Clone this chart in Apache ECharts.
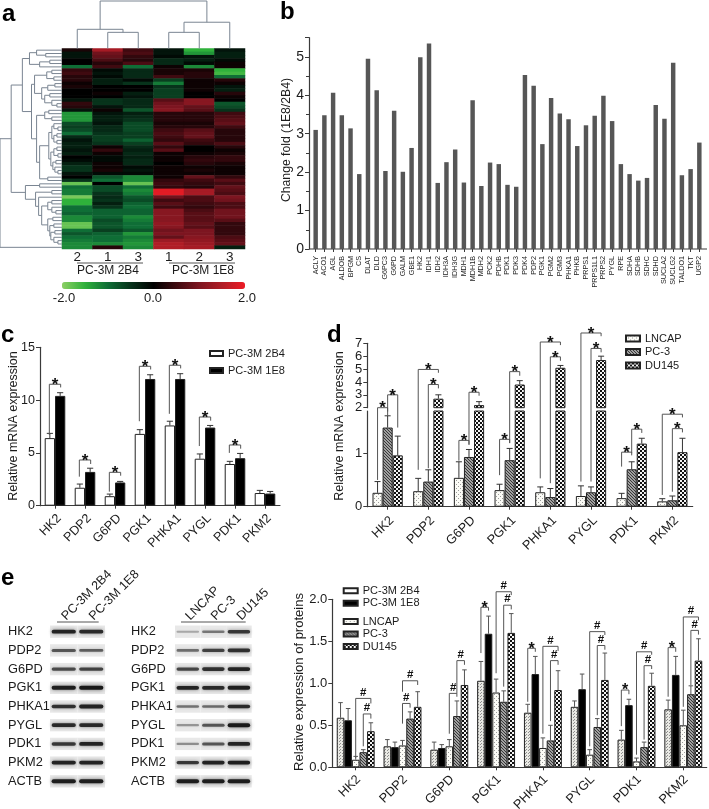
<!DOCTYPE html>
<html><head><meta charset="utf-8">
<style>html,body{margin:0;padding:0;background:#fff}#c{width:709px;height:809px}</style>
<script src="https://cdn.jsdelivr.net/npm/echarts@6/dist/echarts.min.js"></script>
</head><body><div id="c"></div>
<script>
// ---------- DATA ----------
const heatColumns = ['2','1','3','1','2','3'];
const heatRows = [
[.2,1.4,.5,-.2,-1.5,-.2],[-.2,.9,.6,-.2,-1.3,-.3],[-.2,.8,.4,-.1,-.2,-.3],[0,.6,.3,-.4,-.3,-.1],[0,.3,.6,-.4,-.1,.1],
[-1,.5,-1,.1,-1.2,.1],[.4,-.1,-.4,.2,.2,-1.5],[.5,-.2,-.4,.2,.3,-1.6],[.3,-.1,-.4,.5,.3,-1],[.3,-.3,-.1,-.6,.1,.3],
[.1,-.3,-.5,-1.1,.1,.1],[.2,0,0,-.5,.1,-.2],[0,0,0,-.6,.1,-.3],[0,.1,-.3,-.6,0,.3],[0,0,-.2,-.6,0,.1],
[-.2,-.5,-.4,.7,1.1,0],[.4,-.5,-.4,.9,1.1,-.8],[.3,-.2,-.4,1,.8,-.7],[-.2,.1,-.8,1.1,.7,-.5],[-1.3,-.2,-.3,.3,.3,.5],
[-1.3,-.3,-.4,.3,.3,.6],[-1.3,-.3,-.5,.3,.3,.7],[-.7,-.2,-.7,.2,.2,.8],[-.6,-.4,-.7,.3,.3,.5],[-.7,-.4,-.7,.5,.7,.3],
[-1,-.5,-.6,.6,.8,.3],[-.4,-.6,-.6,.5,.8,.3],[-.2,-.6,-.9,.4,.5,.3],[-.3,-.5,-.6,.7,.4,.6],[-.3,.1,-.4,.4,0,.3],
[-.2,.4,-.3,.7,0,.1],[-.3,.1,-.4,.1,.1,.2],[0,-.1,-.3,.1,.3,.4],[-.1,-.1,-.4,.1,.4,.4],[-.3,.1,-.4,0,.3,.2],
[-.5,.1,-.1,.1,.1,.1],[-.5,.2,-.2,.1,.2,.1],[-.2,-.1,-.1,.1,.1,.1],[0,-.8,-1.2,.1,.8,.4],[-.5,-1,-1.2,.4,.5,.7],
[-1.8,0,-1.8,.5,.4,.5],[-1,-.7,-1,.4,.3,.8],[-1.1,-.7,-1.2,1.9,1.4,.7],[-1.1,-.5,-1.1,1.9,1.4,.6],[-1.9,-.4,-.8,.9,.6,1],
[-1.5,-.5,-.7,.5,.6,.9],[-1.5,-.3,-.9,.7,.5,.6],[-1,-.5,-1,.5,.4,.6],[-1,-.9,-.9,1.1,.6,.9],[-.9,-.9,-.9,1.1,.7,.9],
[-1.2,-.9,-1.2,1.1,.7,.9],[-1.2,-.7,-1.1,1.1,.7,.7],[-1.8,-.8,-1,1.2,.8,.4],[-1.8,-.8,-1,1.1,.7,.4],[-1,-.6,-.8,.9,1,.4],
[-.8,-.9,-1.3,1,1,.4],[-1,-1,-1.1,.8,1.1,.6],[-1.1,-1,-1.2,1.3,1.2,.7],[-1.2,-1.2,-1.3,1.5,1.3,.8],[-1.2,.3,-1.2,1.5,1.4,-.3]];
// dendrograms: [merge height, left child, right child]; a number is a leaf
const colTree = [47,[19,0,[16,1,2]],[26,[16,3,4],5]];
const rowTree = [61,[50,[39,
  [32,[25,0,[16,1,2]],[22,[12,3,4],5]],
  [30,
    [27,[15,[10,6,7],[8,8,9]],[20,[14,[7,10,11],12],[17,[12,13,14],[10,15,[5,16,17]]]]],
    [25,[17,[13,18,19],[10,20,21]],[22,
      [13,[10,[8,22,[4,23,24]],[8,[5,25,26],[5,27,28]]],[11,[8,[5,29,30],[4,31,32]],[9,[6,33,34],[7,35,[4,36,37]]]]],
      [14,38,39]]]]],
  [36,[22,40,41],[26,[10,42,43],[23,44,[20,[14,[10,45,46],[10,47,[6,48,49]]],[14,[9,50,51],[12,[8,52,53],[11,[7,54,55],[8,56,[4,57,58]]]]]]]]]],59];

const foldGenes = ['ACLY','ACO1','AGL','ALDOB','BPGM','CS','DLAT','DLD','G6PC3','G6PD','GALM','GBE1','HK2','IDH1','IDH2','IDH3A','IDH3G','MDH1','MDH1B','MDH2','PCK2','PDHB','PDK1','PDK3','PDK4','PDP2','PGK1','PGM2','PGM3','PHKA1','PHKB','PRPS1','PRPS1L1','PRPS2','PYGL','RPE','SDHA','SDHB','SDHC','SDHD','SUCLA2','SUCLG2','TALDO1','TKT','UGP2'];
const foldValues = [3.1,3.48,4.07,3.48,3.14,1.95,4.95,4.13,2.03,3.6,2.01,2.63,4.99,5.35,1.72,2.26,2.59,1.73,3.87,1.64,2.25,2.21,1.67,1.62,4.53,4.25,2.73,3.93,3.53,3.38,2.68,3.22,3.47,3.99,3.33,2.21,1.95,1.78,1.85,3.75,3.39,4.85,1.92,2.08,2.77];

const genes8 = ['HK2','PDP2','G6PD','PGK1','PHKA1','PYGL','PDK1','PKM2'];
const mrna2B4 = [6.4,1.7,.9,6.8,7.6,4.45,3.95,1.2];
const mrna2B4Err = [6.85,2.05,1.1,7.2,8,4.9,4.2,1.45];
const mrna1E8 = [10.4,3.2,2.2,12,12,7.4,4.5,1.15];
const mrna1E8Err = [10.7,3.55,2.3,12.4,12.5,7.6,4.95,1.35];
// brackets: [gene index, from bar slot, to bar slot, top, left leg end, right leg end, mark]
const mrnaBrackets = [[0,-.55,.55,11.5,6.7,11.2,'*'],[1,-.55,.55,4.33,2.75,3.95,'*'],[2,-.55,.55,3.16,1.33,2.84,'*'],[3,-.55,.55,13.2,8,12.9,'*'],[4,-.55,.55,13.3,8.7,13,'*'],[5,-.55,.55,8.4,5.65,8.05,'*'],[6,-.55,.55,5.75,5,5.4,'*']];

const lncap = [.26,.29,.54,.31,.27,.2,.16,.1];
const lncapErr = [.47,.53,.84,.42,.37,.39,.25,.15];
const pc3 = [1.48,.47,.93,.87,.18,.27,.7,.12];
const pc3Err = [1.7,.69,1.07,1.09,.34,.37,.84,.2];
const du145 = [.96,2.7,2.2,3.8,5.1,5.7,1.18,1.02];
const du145Err = [1.32,3,2.47,4.1,5.28,6,1.28,1.28];
const lineBrackets = [[0,-1,0,2,.5,1.78,'*'],[0,0,1,3,1.7,1.48,'*'],[1,-1,1,4.97,.69,4.71,'*'],[1,0,1,3.8,.72,3.5,'*'],[2,-1,0,1.24,.86,1.16,'*'],[2,0,1,3.2,1.16,2.93,'*'],[3,-1,0,1.26,.59,1.19,'*'],[3,0,1,4.8,1.19,4.48,'*'],[4,-1,1,7.1,.53,6.86,'*'],[4,0,1,5.95,.44,5.64,'*'],[5,-1,1,7.8,.47,7.55,'*'],[5,0,1,6.6,.47,6.3,'*'],[6,-1,0,1.02,.75,.96,'*'],[6,0,1,1.45,1,1.38,'*'],[7,-1,1,1.73,.22,1.67,'*'],[7,0,1,1.46,.28,1.39,'*']];

const prot2B4 = [.59,.25,.21,1.03,.65,.72,.33,.69];
const prot2B4Err = [.77,.33,.3,1.26,.75,.79,.44,.8];
const prot1E8 = [.56,.24,.23,1.59,1.11,.93,.74,1.1];
const prot1E8Err = [.7,.3,.27,1.8,1.32,1.11,.81,1.32];
const protLncap = [.09,.26,.25,.89,.23,.15,.07,.5];
const protLncapErr = [.13,.32,.33,1.05,.35,.21,.11,.68];
const protPc3 = [.18,.58,.61,.78,.32,.48,.24,.87];
const protPc3Err = [.21,.66,.79,.91,.5,.58,.3,.97];
const protDu145 = [.43,.72,.98,1.6,.92,1.04,.97,1.27];
const protDu145Err = [.53,.9,1.16,1.83,1.15,1.36,1.12,1.53];
const protBrackets = [[0,0,2,.82,.11,.76,'#'],[0,1,2,.635,.25,.58,'#'],[1,0,2,1.03,.9,.98,'#'],[1,0,1,.76,.52,.71,'#'],[2,0,1,.88,.4,.84,'#'],[2,1,2,1.27,.88,1.22,'#'],[3,-2,-1,1.905,1.36,1.865,'*'],[3,0,2,2.09,1.12,2.05,'#'],[3,1,2,1.93,.96,1.88,'#'],[4,-2,-1,1.417,.78,1.375,'*'],[4,0,2,1.44,.4,1.385,'#'],[4,1,2,1.27,.55,1.22,'#'],[5,0,2,1.615,.25,1.575,'#'],[5,1,2,1.45,.62,1.4,'#'],[6,-2,-1,.92,.49,.87,'*'],[6,0,2,1.375,.15,1.34,'#'],[6,1,2,1.21,.33,1.17,'#'],[7,-2,-1,1.425,.84,1.375,'*'],[7,0,2,1.79,.72,1.75,'#'],[7,1,2,1.63,.98,1.58,'#']];

const blotGenes = ['HK2','PDP2','G6PD','PGK1','PHKA1','PYGL','PDK1','PKM2','ACTB'];
const blotLanesA = ['PC-3M 2B4','PC-3M 1E8'];
const blotLanesB = ['LNCAP','PC-3','DU145'];
const blotA = [[.9,.85],[.55,.5],[.62,.68],[.95,1],[.8,.9],[.85,.85],[.75,.9],[.9,.9],[.95,.95]];
const blotB = [[.08,.35,.75],[.4,.68,.8],[.65,.8,.9],[.9,.85,.95],[.38,.42,.85],[.18,.55,1],[.22,.55,.9],[.75,.9,.95],[.95,.95,.95]];

// ---------- HELPERS ----------
const FONT = '"Liberation Sans", Arial, sans-serif';
function pattern(size, bg, fg, cells){
  const c = document.createElement('canvas'); c.width = c.height = size;
  const g = c.getContext('2d'); g.fillStyle = bg; g.fillRect(0,0,size,size); g.fillStyle = fg;
  cells.forEach(p => g.fillRect(p[0],p[1],p[2],p[3]));
  return {image:c, repeat:'repeat'};
}
const patLncap = pattern(4,'#fbfbf6','#9a9a9a',[[0,0,1,1],[2,2,1,1]]);
const pat2B4 = pattern(3,'#e9e9e4','#8e8e8e',[[0,0,1,1],[1,2,1,1]]);
const patPc3 = pattern(3,'#a0a0a0','#383838',[[0,0,1,1],[1,1,1,1],[2,2,1,1]]);
const patDu = pattern(4,'#111','#f4f4f4',[[0,0,2,2],[2,2,2,2]]);
const AX = '#3a3a3a', TXT = '#1c1c1c';

function flatten(node, segs){
  if (typeof node === 'number') return {p:node+.5, h:0};
  const a = flatten(node[1],segs), b = flatten(node[2],segs), h = node[0];
  segs.push([a.p,a.h,a.p,h],[b.p,b.h,b.p,h],[a.p,h,b.p,h]);
  return {p:(a.p+b.p)/2, h};
}
function dendroSeries(tree, xi, yi, vertical){
  const segs = []; flatten(tree, segs);
  return {type:'custom', xAxisIndex:xi, yAxisIndex:yi, silent:true, data:segs.map((s,i)=>[i]), encode:{x:0,y:0},
    renderItem(params, api){
      const s = segs[params.dataIndex];
      const a = api.coord(vertical ? [s[0],s[1]] : [s[1],s[0]]);
      const b = api.coord(vertical ? [s[2],s[3]] : [s[3],s[2]]);
      return {type:'line', shape:{x1:a[0],y1:a[1],x2:b[0],y2:b[1]}, style:{stroke:'#7a8592',lineWidth:1}};
    }};
}
function barSeries(name, values, color, ai, frac, extra){
  return Object.assign({type:'bar', name, data:values, xAxisIndex:ai, yAxisIndex:ai, barWidth:(frac*100)+'%', barGap:'0%',
    itemStyle:{color, borderColor:'#222', borderWidth:1}, silent:true}, extra||{});
}
function errSeries(xi, yi, slot, frac, values, tops, map, color){
  map = map || (v=>v);
  return {type:'custom', xAxisIndex:xi, yAxisIndex:yi, silent:true, z:5, data:values.map((v,i)=>[i,v,tops[i]]), encode:{x:0,y:1},
    renderItem(params, api){
      const i = params.dataIndex, band = api.size([1,0])[0], w = band*frac;
      const p0 = api.coord([i,0])[0] + slot*w;
      const y1 = api.coord([i,map(values[i])])[1], y2 = api.coord([i,map(tops[i])])[1];
      const st = {stroke:color||'#333', lineWidth:1};
      return {type:'group', children:[
        {type:'line', shape:{x1:p0,y1,x2:p0,y2}, style:st},
        {type:'line', shape:{x1:p0-w*.3,y1:y2,x2:p0+w*.3,y2}, style:st}]};
    }};
}
function bracketSeries(rows, xi, yi, frac, map, starSize){
  map = map || (v=>v);
  return {type:'custom', xAxisIndex:xi, yAxisIndex:yi, silent:true, z:6, data:rows.map(r=>[r[0],r[3]]), encode:{x:0,y:1},
    renderItem(params, api){
      const r = rows[params.dataIndex], band = api.size([1,0])[0], w = band*frac;
      const c = api.coord([r[0],0])[0], xa = c+r[1]*w, xb = c+r[2]*w;
      const yt = api.coord([r[0],map(r[3])])[1], ya = api.coord([r[0],map(r[4])])[1], yb = api.coord([r[0],map(r[5])])[1];
      const star = r[6]==='*';
      return {type:'group', children:[
        {type:'polyline', shape:{points:[[xa,ya],[xa,yt],[xb,yt],[xb,yb]]}, style:{stroke:'#555',fill:null,lineWidth:1}},
        {type:'text', style:{x:(xa+xb)/2, y:star?yt+1:yt-6, text:r[6], align:'center', verticalAlign:'middle', fill:'#111',
          font: star ? ('bold '+starSize+'px '+FONT) : ('bold 11.5px '+FONT)}}]};
    }};
}
function blotSeries(rows, ai){
  const data = []; rows.forEach((r,g)=>r.forEach((v,l)=>data.push([l,g,v])));
  return {type:'custom', xAxisIndex:ai, yAxisIndex:ai, silent:true, data, encode:{x:0,y:1},
    renderItem(params, api){
      const l = api.value(0), g = api.value(1), v = data[params.dataIndex][2];
      const p = api.coord([l,g]), s = api.size([1,1]);
      const h = s[1]*.66, w = s[0];
      const bh = 1.8+2.2*v, bw = w*.88;
      return {type:'group', children:[
        {type:'rect', shape:{x:p[0]-w/2,y:p[1]-h/2,width:w,height:h}, style:{fill:'#e8e8e8'}},
        {type:'rect', shape:{x:p[0]-bw/2,y:p[1]-bh/2,width:bw,height:bh,r:bh/2},
          style:{fill:'rgba(25,25,25,'+(.22+.78*v)+')', shadowBlur:2+2*v, shadowColor:'rgba(40,40,40,'+(.2+.5*v)+')'}}]};
    }};
}
function txt(text,x,y,size,opts){
  return Object.assign({type:'text', silent:true, x, y, rotation:(opts&&opts.rot)||0,
    style:{text, fill:(opts&&opts.fill)||TXT, font:((opts&&opts.bold)?'bold ':'')+size+'px '+FONT,
      textAlign:(opts&&opts.align)||'center', textVerticalAlign:'middle'}},{});
}
function seg(x1,y1,x2,y2,color,w){
  return {type:'line', silent:true, shape:{x1,y1,x2,y2}, style:{stroke:color||'#444', lineWidth:w||1}};
}
function xCat(gridIndex, data, size, rotate, margin, show, shift){
  return {type:'category', gridIndex, data, axisLine:{show:show!==false, lineStyle:{color:AX,width:1.2}},
    axisTick:{show:show!==false, alignWithLabel:true, length:3, lineStyle:{color:AX}},
    axisLabel:{show:show!==false, interval:0, rotate:rotate||0, margin:margin||6, fontSize:size, color:TXT, fontFamily:FONT, padding:shift?[0,-shift,0,0]:0}, splitLine:{show:false}};
}
function yVal(gridIndex, min, max, interval, size, extra){
  return Object.assign({type:'value', gridIndex, min, max, interval,
    axisLine:{show:true, lineStyle:{color:AX,width:1.2}}, axisTick:{show:true, length:4, lineStyle:{color:AX}},
    axisLabel:{fontSize:size, color:TXT, fontFamily:FONT, margin:5, showMinLabel:true, showMaxLabel:true}, splitLine:{show:false}}, extra||{});
}
const hidden = {show:false};
function hiddenVal(gridIndex,min,max,inverse){ return {type:'value',gridIndex,min,max,inverse:!!inverse,show:false,splitLine:hidden}; }

// broken axis of panel d: express any value in units of the lower segment
const dLowMax = 1.79, dLowH = 95.7, dUpH = 64.4, dGap = 3.3, dUpMin = 2, dUpMax = 7;
const dUnit = dLowH/dLowMax;
function dMap(v){
  if (v <= dLowMax) return v;
  if (v < dUpMin) return dLowMax + (v-dLowMax)/(dUpMin-dLowMax)*dGap/dUnit;
  return dLowMax + dGap/dUnit + (v-dUpMin)*(dUpH/(dUpMax-dUpMin))/dUnit;
}
const frC = .343, frD = .248, frE = .162;
const upper = a => a.map(v => v >= dUpMin ? v : null);

// ---------- OPTION ----------
const heatData = [];
heatRows.forEach((r,y)=>r.forEach((v,x)=>heatData.push([x,y,v])));

const option = {
  animation:false, backgroundColor:'#fff', textStyle:{fontFamily:FONT},
  grid:[
    {left:62,top:48.5,width:183,height:200.5},
    {left:62,top:0,width:183,height:48.5},
    {left:0,top:48.5,width:62,height:200.5},
    {left:311.3,top:37.7,width:392.4,height:211.3},
    {left:40,top:347.3,width:240,height:158.4},
    {left:367.3,top:411,width:325.4,height:dLowH},
    {left:367.3,top:343.3,width:325.4,height:dUpH},
    {left:50,top:622.35,width:55,height:168.3},
    {left:175,top:622.35,width:76.7,height:168.3},
    {left:332.3,top:599.3,width:374.4,height:168}
  ].map(g=>Object.assign(g,{outerBoundsMode:'none'})),
  xAxis:[
    Object.assign(xCat(0,heatColumns,13.5,0,1),{axisLine:hidden,axisTick:hidden}),
    hiddenVal(1,0,6),
    hiddenVal(2,0,61,true),
    Object.assign(xCat(3,foldGenes,7.2,90,7),{axisLine:hidden,axisTick:{show:true,alignWithLabel:true,length:3,lineStyle:{color:AX}}}),
    xCat(4,genes8,12.6,45,15,true,6),
    xCat(5,genes8,12.8,45,16,true,6),
    xCat(6,genes8,13,0,6,false),
    Object.assign(xCat(7,blotLanesA,12.6,-45,4),{position:'top',axisLine:hidden,axisTick:hidden}),
    Object.assign(xCat(8,blotLanesB,12.6,-45,4),{position:'top',axisLine:hidden,axisTick:hidden}),
    xCat(9,genes8,12.8,45,13,true,4)
  ],
  yAxis:[
    {type:'category',gridIndex:0,inverse:true,data:heatRows.map((r,i)=>i),show:false},
    hiddenVal(1,0,48),
    hiddenVal(2,0,60,true),
    yVal(3,0,5.5,1,14,{offset:2.3,minorTick:{show:true,splitNumber:2,length:3,lineStyle:{color:AX}},axisLabel:{fontSize:14,color:TXT,fontFamily:FONT,margin:5,showMaxLabel:false}}),
    yVal(4,0,15,5,12.5),
    yVal(5,0,dLowMax,1,13,{axisLabel:{fontSize:13,color:TXT,fontFamily:FONT,margin:5,showMinLabel:true,showMaxLabel:false}}),
    yVal(6,dUpMin,dUpMax,1,13),
    {type:'category',gridIndex:7,inverse:true,data:blotGenes,axisLine:hidden,axisTick:hidden,axisLabel:{align:'left',margin:42,fontSize:12.8,color:TXT,fontFamily:FONT,interval:0}},
    {type:'category',gridIndex:8,inverse:true,data:blotGenes,axisLine:hidden,axisTick:hidden,axisLabel:{align:'left',margin:44,fontSize:12.8,color:TXT,fontFamily:FONT,interval:0}},
    yVal(9,0,2,.5,13,{axisLabel:{fontSize:13,color:TXT,fontFamily:FONT,margin:5,showMinLabel:true,showMaxLabel:true,formatter:v=>v.toFixed(1)}})
  ],
  visualMap:{type:'continuous',min:-2,max:2,seriesIndex:0,orient:'horizontal',left:47,top:267,itemWidth:7,itemHeight:183,
    calculable:false,hoverLink:false,text:null,showLabel:false,
    inRange:{color:['#8ccf63','#2fb13b','#0f6e36','#07331b','#000000','#3f0a10','#7d1520','#b01d26','#ee1c25']}},
  legend:[
    {left:204,top:343,orient:'vertical',icon:'rect',itemWidth:13,itemHeight:5,itemGap:6,selectedMode:false,data:['PC-3M 2B4','PC-3M 1E8'],textStyle:{fontSize:11,color:TXT,fontFamily:FONT}},
    {left:620,top:328,orient:'vertical',icon:'rect',itemWidth:14,itemHeight:6,itemGap:2.5,selectedMode:false,data:['LNCAP','PC-3','DU145'],textStyle:{fontSize:11,color:TXT,fontFamily:FONT}},
    {left:337.7,top:580.3,orient:'vertical',icon:'rect',itemWidth:14,itemHeight:5,itemGap:1.5,selectedMode:false,data:['PC-3M 2B4','PC-3M 1E8'],textStyle:{fontSize:11,color:TXT,fontFamily:FONT}},
    {left:337.7,top:611,orient:'vertical',icon:'rect',itemWidth:14,itemHeight:5,itemGap:1.5,selectedMode:false,data:['LNCAP','PC-3','DU145'],textStyle:{fontSize:11,color:TXT,fontFamily:FONT}}
  ],
  series:[
    {type:'heatmap',xAxisIndex:0,yAxisIndex:0,data:heatData,silent:true,itemStyle:{borderWidth:0}},
    dendroSeries(colTree,1,1,true),
    dendroSeries(rowTree,2,2,false),
    {type:'bar',xAxisIndex:3,yAxisIndex:3,data:foldValues,barWidth:'51%',itemStyle:{color:'#565656'},silent:true},
    // c
    barSeries('PC-3M 2B4',mrna2B4,'#fff',4,frC),
    barSeries('PC-3M 1E8',mrna1E8,'#000',4,frC),
    errSeries(4,4,-.5,frC,mrna2B4,mrna2B4Err),
    errSeries(4,4,.5,frC,mrna1E8,mrna1E8Err),
    bracketSeries(mrnaBrackets,4,4,frC,null,17),
    // d
    barSeries('LNCAP',lncap,patLncap,5,frD),
    barSeries('PC-3',pc3,patPc3,5,frD),
    barSeries('DU145',du145,patDu,5,frD),
    barSeries('LNCAP up',upper(lncap),patLncap,6,frD),
    barSeries('PC-3 up',upper(pc3),patPc3,6,frD),
    barSeries('DU145 up',upper(du145),patDu,6,frD),
    errSeries(5,5,-1,frD,lncap,lncapErr,dMap),
    errSeries(5,5,0,frD,pc3,pc3Err,dMap),
    errSeries(5,5,1,frD,du145,du145Err,dMap),
    bracketSeries(lineBrackets,5,5,frD,dMap,17),
    // blots
    blotSeries(blotA,7),
    blotSeries(blotB,8),
    // e
    barSeries('2B4 protein',prot2B4,pat2B4,9,frE),
    barSeries('1E8 protein',prot1E8,'#000',9,frE),
    barSeries('LNCAP protein',protLncap,patLncap,9,frE),
    barSeries('PC-3 protein',protPc3,patPc3,9,frE),
    barSeries('DU145 protein',protDu145,patDu,9,frE),
    errSeries(9,9,-2,frE,prot2B4,prot2B4Err,null,'#555'),
    errSeries(9,9,-1,frE,prot1E8,prot1E8Err,null,'#555'),
    errSeries(9,9,0,frE,protLncap,protLncapErr,null,'#555'),
    errSeries(9,9,1,frE,protPc3,protPc3Err,null,'#555'),
    errSeries(9,9,2,frE,protDu145,protDu145Err,null,'#555'),
    bracketSeries(protBrackets,9,9,frE,null,16)
  ],
  graphic:{elements:[
    txt('a',2,14,24,{bold:true,align:'left',fill:'#000'}),
    txt('b',280,12,24,{bold:true,align:'left',fill:'#000'}),
    txt('c',1,335,24,{bold:true,align:'left',fill:'#000'}),
    txt('d',327,335,24,{bold:true,align:'left',fill:'#000'}),
    txt('e',1,578,24,{bold:true,align:'left',fill:'#000'}),
    seg(77,263,143,263,'#555'), seg(169,263,235,263,'#555'),
    txt('PC-3M 2B4',108,271,12), txt('PC-3M 1E8',203,271,12),
    txt('-2.0',64,298,13), txt('0.0',153,298,13), txt('2.0',247,298,13),
    seg(309,249,707,249,AX,1.2),
    txt('Change fold (1E8/2B4)',287,140,12.2,{rot:Math.PI/2}),
    txt('Relative mRNA expression',13.5,426,12.5,{rot:Math.PI/2}),
    txt('Relative mRNA expression',340,426,12.5,{rot:Math.PI/2}),
    txt('Relative expression of proteins',299,682,13,{rot:Math.PI/2}),
    seg(57,622,98.7,622,'#555'), seg(181,622,245.7,622,'#555')
  ]}
};
const chart = echarts.init(document.getElementById('c'),null,{renderer:'canvas',width:709,height:809});
chart.setOption(option);
</script></body></html>
